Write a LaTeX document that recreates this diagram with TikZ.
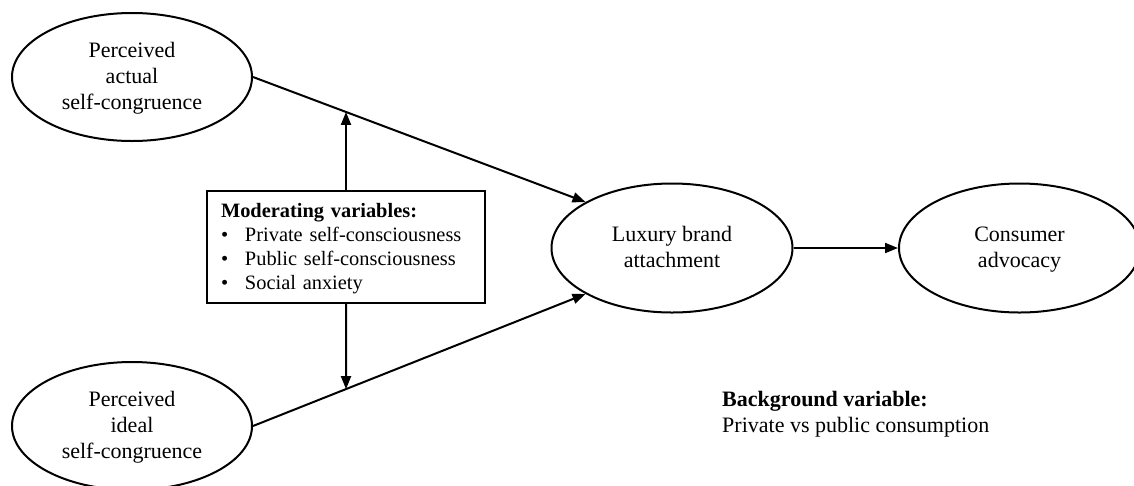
\documentclass[tikz,border=0pt]{standalone}
\usepackage{fontspec}
\setmainfont{Liberation Serif}
\usetikzlibrary{shapes.geometric,arrows.meta}
\newcommand\lstrut{\rule[-0.25\baselineskip]{0pt}{\baselineskip}}
\begin{document}
\begin{tikzpicture}[x=1pt,y=-1pt,
  lat/.style={ellipse,draw,line width=2pt,inner sep=0pt,align=center,
    minimum width=241,minimum height=129,font=\fontsize{22}{26}\selectfont},
  conn/.style={line width=2pt,-{Triangle[length=13pt,width=10pt]}}]
\useasboundingbox (0,0) rectangle (1134,485);
\node[lat,minimum width=240,minimum height=128] (act) at (132,77)
  {\lstrut Perceived\\\lstrut actual\\\lstrut self-congruence};
\node[lat,minimum width=240,minimum height=128] (ide) at (132,426)
  {\lstrut Perceived\\\lstrut ideal\\\lstrut self-congruence};
\node[lat] (lux) at (672,248) {\lstrut Luxury brand\\\lstrut attachment};
\node[lat] (adv) at (1019.5,248) {\lstrut Consumer\\\lstrut advocacy};
\node[draw,line width=2pt,text width=250pt,inner xsep=14pt,inner ysep=0pt,minimum height=112,align=left,
  font=\fontsize{20.4}{24}\selectfont] (mod) at (346,247)
  {\lstrut\textbf{Moderating variables:}\\
   \lstrut\makebox[24pt][l]{\textbullet}Private self-consciousness\\
   \lstrut\makebox[24pt][l]{\textbullet}Public self-consciousness\\
   \lstrut\makebox[24pt][l]{\textbullet}Social anxiety};
\node[anchor=west,align=left,inner sep=0pt,font=\fontsize{22}{26}\selectfont] (bg) at (722,412.5)
  {\lstrut\textbf{Background variable:}\\\lstrut Private vs public consumption};
\draw[conn] (act.east) -- (lux.152);
\draw[conn] (ide.east) -- (lux.208);
\draw[conn] (lux.east) -- (adv.west);
\coordinate (m1) at (intersection of act.east--lux.152 and mod.north--mod.center);
\coordinate (m2) at (intersection of ide.east--lux.208 and mod.south--mod.center);
\draw[conn] (mod.north) -- (m1);
\draw[conn] (mod.south) -- (m2);
\end{tikzpicture}
\end{document}
